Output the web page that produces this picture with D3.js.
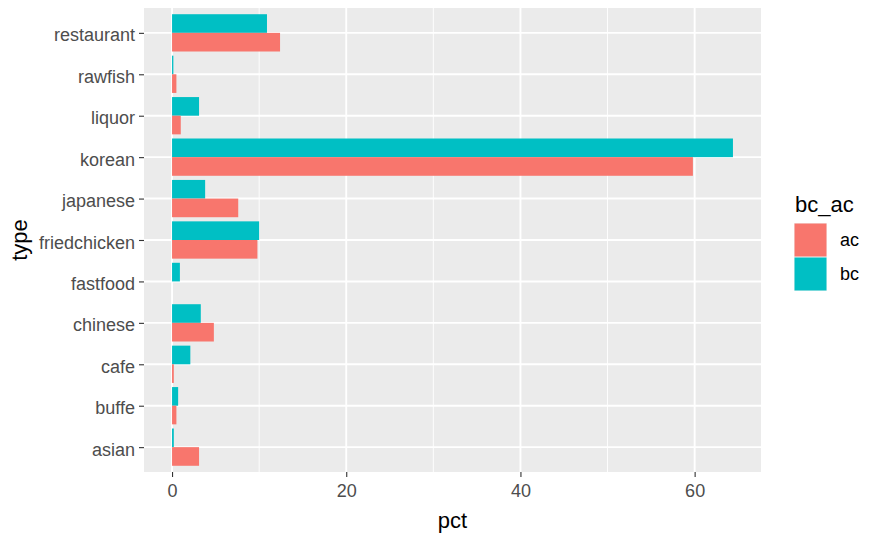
<!DOCTYPE html>
<html><head><meta charset="utf-8">
<script src="https://cdn.jsdelivr.net/npm/d3@7"></script>
<style>body{margin:0;background:#fff;} svg{display:block;font-family:"Liberation Sans",Arial,sans-serif;}</style>
</head><body>
<script>
const categories = ["restaurant","rawfish","liquor","korean","japanese","friedchicken","fastfood","chinese","cafe","buffe","asian"];
const acValues = [12.4, 0.5, 1.0, 59.8, 7.6, 9.8, 0.0, 4.8, 0.2, 0.5, 3.1];
const bcValues = [10.9, 0.15, 3.1, 64.4, 3.8, 10.0, 0.9, 3.3, 2.1, 0.7, 0.2];
const xTicks = [0, 20, 40, 60];
const xMinor = [10, 30, 50];
const groups = ["ac","bc"];
const colors = {ac:"#F8766D", bc:"#00BFC4"};

const W = 881, H = 537;
const P = {l:144, r:761, t:8, b:472};
const svg = d3.select("body").append("svg").attr("width", W).attr("height", H);

const maxV = d3.max(acValues.concat(bcValues));
const pad = maxV * 0.05;
const x = d3.scaleLinear().domain([-pad, maxV + pad]).range([P.l, P.r]);
const y = d3.scalePoint().domain(categories).range([P.t, P.b]).padding(0.6);
const step = y.step();
const bh = step * 0.45;

svg.append("rect").attr("x", P.l).attr("y", P.t).attr("width", P.r - P.l).attr("height", P.b - P.t).attr("fill", "#EBEBEB");

svg.selectAll(".minor").data(xMinor).join("line")
  .attr("x1", d => x(d)).attr("x2", d => x(d)).attr("y1", P.t).attr("y2", P.b)
  .attr("stroke", "#fff").attr("stroke-width", 0.9);
svg.selectAll(".majx").data(xTicks).join("line")
  .attr("x1", d => x(d)).attr("x2", d => x(d)).attr("y1", P.t).attr("y2", P.b)
  .attr("stroke", "#fff").attr("stroke-width", 1.9);
svg.selectAll(".majy").data(categories).join("line")
  .attr("x1", P.l).attr("x2", P.r).attr("y1", d => y(d)).attr("y2", d => y(d))
  .attr("stroke", "#fff").attr("stroke-width", 1.9);

const rows = [];
categories.forEach((c, i) => {
  rows.push({c, g:"bc", v:bcValues[i]});
  rows.push({c, g:"ac", v:acValues[i]});
});
svg.selectAll(".bar").data(rows).join("rect")
  .attr("x", d => x(0))
  .attr("width", d => x(d.v) - x(0))
  .attr("y", d => d.g === "bc" ? y(d.c) - bh : y(d.c))
  .attr("height", bh)
  .attr("fill", d => colors[d.g]);

// axes
const gx = svg.append("g").attr("transform", `translate(0,${P.b})`)
  .call(d3.axisBottom(x).tickValues(xTicks).tickSize(5).tickPadding(7));
gx.select(".domain").remove();
gx.selectAll("line").attr("stroke", "#333").attr("stroke-width", 1.1);
gx.selectAll("text").attr("fill", "#4D4D4D").attr("font-size", 18).attr("font-family", "Liberation Sans, Arial, sans-serif");

const gy = svg.append("g").attr("transform", `translate(${P.l},0)`)
  .call(d3.axisLeft(y).tickSize(5).tickPadding(4));
gy.select(".domain").remove();
gy.selectAll("line").attr("stroke", "#333").attr("stroke-width", 1.1);
gy.selectAll("text").attr("fill", "#4D4D4D").attr("font-size", 18).attr("font-family", "Liberation Sans, Arial, sans-serif")
  .attr("dy", "0.45em");

svg.append("text").attr("x", (P.l + P.r) / 2).attr("y", 528).attr("text-anchor", "middle")
  .attr("font-size", 22).attr("fill", "#000").text("pct");
svg.append("text").attr("transform", `translate(27,${(P.t + P.b) / 2}) rotate(-90)`).attr("text-anchor", "middle")
  .attr("font-size", 22).attr("fill", "#000").text("type");

// legend
const lg = svg.append("g");
lg.append("text").attr("x", 795).attr("y", 212).attr("font-size", 22).attr("fill", "#000").text("bc_ac");
groups.forEach((g, i) => {
  const ky = 223 + i * 34;
  lg.append("rect").attr("x", 794).attr("y", ky).attr("width", 33).attr("height", 34).attr("fill", "#F2F2F2");
  lg.append("rect").attr("x", 794.5).attr("y", ky + 0.5).attr("width", 32).attr("height", 33).attr("fill", colors[g]);
  lg.append("text").attr("x", 840).attr("y", ky + 17).attr("dy", "0.35em").attr("font-size", 18).attr("fill", "#000").text(g);
});
</script>
</body></html>
